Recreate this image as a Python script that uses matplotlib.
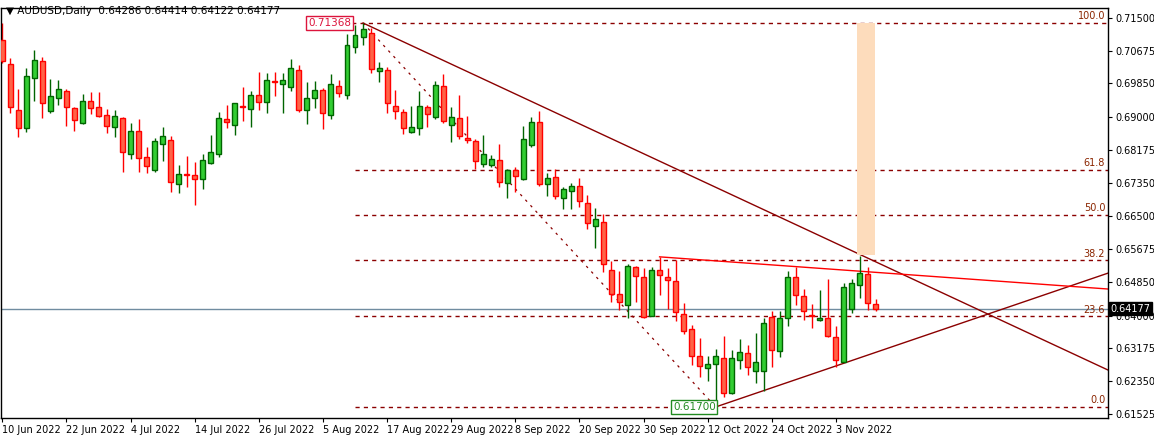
import matplotlib
matplotlib.use("Agg")
import matplotlib.pyplot as plt
import numpy as np
from matplotlib.patches import Rectangle

opens = [0.7094,0.7034,0.6917,0.6872,0.6998,0.7041,0.6915,0.6948,0.6966,0.6923,
         0.6885,0.6940,0.6925,0.6905,0.6875,0.6898,0.6807,0.6865,0.6799,0.6767,
         0.6832,0.6842,0.6731,0.6757,0.6754,0.6744,0.6784,0.6807,0.6895,0.6880,
         0.6928,0.6920,0.6956,0.6938,0.6991,0.6983,0.6976,0.7018,0.6918,0.6948,
         0.6968,0.6905,0.6978,0.6956,0.7076,0.7102,0.7112,0.7016,0.7018,0.6928,
         0.6913,0.6862,0.6872,0.6925,0.6900,0.6978,0.6880,0.6898,0.6847,0.6840,
         0.6782,0.6779,0.6792,0.6734,0.6767,0.6744,0.6830,0.6888,0.6731,0.6749,
         0.6696,0.6714,0.6726,0.6684,0.6626,0.6636,0.6515,0.6454,0.6427,0.6522,
         0.6497,0.6399,0.6515,0.6497,0.6487,0.6404,0.6366,0.6298,0.6268,0.6278,
         0.6293,0.6205,0.6288,0.6306,0.6260,0.6260,0.6396,0.6311,0.6394,0.6497,
         0.6450,0.6402,0.6390,0.6394,0.6346,0.6284,0.6417,0.6477,0.6505,0.64286]
highs = [0.7137,0.7049,0.6971,0.7023,0.7069,0.7051,0.6996,0.6993,0.6971,0.6925,
         0.6958,0.6963,0.6963,0.6920,0.6918,0.6900,0.6885,0.6895,0.6825,0.6847,
         0.6875,0.6852,0.6779,0.6802,0.6787,0.6807,0.6855,0.6913,0.6930,0.6935,
         0.6976,0.6966,0.7013,0.7011,0.7013,0.7011,0.7046,0.7031,0.6988,0.6991,
         0.6973,0.7008,0.6993,0.7109,0.7132,0.71368,0.7124,0.7039,0.7026,0.6968,
         0.6920,0.6928,0.6966,0.6930,0.6991,0.7008,0.6925,0.6956,0.6903,0.6845,
         0.6855,0.6804,0.6832,0.6769,0.6774,0.6877,0.6900,0.6915,0.6759,0.6769,
         0.6724,0.6734,0.6747,0.6704,0.6671,0.6656,0.6538,0.6512,0.6530,0.6525,
         0.6520,0.6522,0.6548,0.6520,0.6540,0.6432,0.6376,0.6344,0.6298,0.6316,
         0.6349,0.6313,0.6341,0.6326,0.6356,0.6394,0.6412,0.6412,0.6512,0.6522,
         0.6467,0.6429,0.6465,0.6492,0.6374,0.6482,0.6492,0.6550,0.6522,0.64414]
lows = [0.7036,0.6910,0.6850,0.6862,0.6940,0.6898,0.6910,0.6930,0.6877,0.6865,
        0.6882,0.6908,0.6900,0.6860,0.6850,0.6762,0.6794,0.6762,0.6759,0.6762,
        0.6789,0.6711,0.6709,0.6724,0.6679,0.6719,0.6782,0.6799,0.6872,0.6855,
        0.6890,0.6875,0.6918,0.6910,0.6953,0.6910,0.6966,0.6913,0.6882,0.6923,
        0.6870,0.6895,0.6950,0.6945,0.7061,0.7081,0.7011,0.6988,0.6910,0.6895,
        0.6857,0.6860,0.6855,0.6875,0.6895,0.6885,0.6837,0.6845,0.6835,0.6769,
        0.6774,0.6774,0.6724,0.6696,0.6711,0.6741,0.6825,0.6726,0.6701,0.6694,
        0.6668,0.6668,0.6674,0.6618,0.6570,0.6510,0.6434,0.6414,0.6394,0.6434,
        0.6394,0.6399,0.6452,0.6417,0.6386,0.6354,0.6276,0.6245,0.6235,0.6170,
        0.6195,0.6203,0.6266,0.6250,0.6230,0.6210,0.6271,0.6296,0.6374,0.6427,
        0.6389,0.6369,0.6386,0.6346,0.6271,0.6284,0.6407,0.6444,0.6414,0.64122]
closes = [0.7041,0.6925,0.6872,0.7003,0.7044,0.6935,0.6953,0.6971,0.6925,0.6893,
          0.6940,0.6923,0.6903,0.6877,0.6903,0.6812,0.6865,0.6797,0.6777,0.6840,
          0.6852,0.6736,0.6757,0.6754,0.6744,0.6792,0.6812,0.6898,0.6888,0.6935,
          0.6925,0.6956,0.6938,0.6993,0.6988,0.6993,0.7023,0.6918,0.6948,0.6968,
          0.6910,0.6983,0.6961,0.7081,0.7107,0.7122,0.7021,0.7023,0.6935,0.6915,
          0.6872,0.6875,0.6928,0.6908,0.6981,0.6890,0.6900,0.6852,0.6842,0.6789,
          0.6807,0.6794,0.6736,0.6767,0.6752,0.6845,0.6888,0.6731,0.6747,0.6701,
          0.6719,0.6726,0.6689,0.6633,0.6643,0.6530,0.6454,0.6434,0.6525,0.6500,
          0.6396,0.6515,0.6502,0.6490,0.6409,0.6361,0.6298,0.6273,0.6278,0.6298,
          0.6205,0.6293,0.6308,0.6271,0.6283,0.6381,0.6313,0.6394,0.6497,0.6452,
          0.6412,0.6399,0.6394,0.6348,0.6288,0.6472,0.6482,0.6507,0.6432,0.64177]

date_labels = ["10 Jun 2022","22 Jun 2022","4 Jul 2022","14 Jul 2022","26 Jul 2022",
               "5 Aug 2022","17 Aug 2022","29 Aug 2022","8 Sep 2022","20 Sep 2022",
               "30 Sep 2022","12 Oct 2022","24 Oct 2022","3 Nov 2022"]
y_ticks = [0.71500,0.70675,0.69850,0.69000,0.68175,0.67350,0.66500,0.65675,
           0.64850,0.64000,0.63175,0.62350,0.61525]
fib_high, fib_low = 0.71368, 0.61700
fib_levels = [0.0, 23.6, 38.2, 50.0, 61.8, 100.0]
last_price = 0.64177

W, H = 1154, 438
fig = plt.figure(figsize=(W/100, H/100), dpi=100)
ax = fig.add_axes([1/W, 1-418/H, 1107/W, 410/H])
ax.set_xlim(-0.17, 137.95)
ax.set_ylim(0.61422, 0.71746)

o = np.array(opens); h = np.array(highs); l = np.array(lows); c = np.array(closes)
idx = np.arange(len(o))
up = c >= o
GB, GE = "#32cd32", "#006400"
RB, RE = "#ff6347", "#ff0000"

# overlays behind candles
ax.axhline(last_price, color="#708ca0", lw=1, zorder=1)
i_hi, i_lo = 45, 89
for lv in fib_levels:
    p = fib_low + (fib_high - fib_low) * lv / 100
    xs = 41.5 if lv == 100.0 else 44
    ax.plot([xs, 137.95], [p, p], color="#8b0000", lw=1, ls=(0, (3, 3)), zorder=1)
    ax.text(137.6, p + 0.0004, f"{lv:.1f}", color="#8b2500", fontsize=7, ha="right", va="bottom")
ax.plot([i_hi, i_lo], [fib_high, fib_low], color="#8b0000", lw=0.9, ls=(0, (2, 4)), zorder=1)
# trend lines
ax.plot([i_hi, 137.95], [fib_high, 0.6263], color="#8b0000", lw=1, zorder=1)
ax.plot([i_lo, 137.95], [fib_low, 0.6507], color="#8b0000", lw=1, zorder=1)
ax.plot([82, 137.95], [0.6548, 0.6467], color="#ff0000", lw=1, zorder=1)
ax.add_patch(Rectangle((106.6, 0.6553), 2.3, fib_high - 0.6553, color="#fddcbc", zorder=1, lw=0))

# candles
ax.vlines(idx[up], l[up], h[up], color=GE, lw=1, zorder=2)
ax.vlines(idx[~up], l[~up], h[~up], color=RE, lw=1, zorder=2)
body_b = np.minimum(o, c); body_h = np.maximum(np.abs(c - o), 0.00012)
ax.bar(idx[up], body_h[up], 0.62, bottom=body_b[up], color=GB, edgecolor=GE, lw=1, zorder=3)
ax.bar(idx[~up], body_h[~up], 0.62, bottom=body_b[~up], color=RB, edgecolor=RE, lw=1, zorder=3)

# price labels
ax.text(43.5, fib_high, f"{fib_high:.5f}", color="#dc143c", fontsize=7.5, ha="right", va="center",
        bbox=dict(boxstyle="square,pad=0.15", fc="white", ec="#dc143c", lw=1), zorder=5)
ax.text(89, fib_low, f"{fib_low:.5f}", color="#228b22", fontsize=7.5, ha="right", va="center",
        bbox=dict(boxstyle="square,pad=0.15", fc="white", ec="#228b22", lw=1), zorder=5)

ax.set_xticks([8 * k for k in range(len(date_labels))])
ax.set_xticklabels(date_labels, fontsize=7, ha="left")
ax.tick_params(axis="x", length=3, pad=2)
ax.yaxis.tick_right()
ax.set_yticks(y_ticks)
ax.set_yticklabels([f"{v:.5f}" for v in y_ticks], fontsize=7)
ax.tick_params(axis="y", length=3, pad=2)
ax.text(1.002, last_price, f"{last_price:.5f}", transform=ax.get_yaxis_transform(),
        color="white", fontsize=7, va="center", ha="left",
        bbox=dict(boxstyle="square,pad=0.15", fc="black", ec="black"), zorder=6, clip_on=False)
fig.text(6/W, 1-11/H, "▼ AUDUSD,Daily  0.64286 0.64414 0.64122 0.64177", fontsize=7.5, va="center")
for s in ax.spines.values():
    s.set_linewidth(1)
fig.savefig("out.png", dpi=100)
